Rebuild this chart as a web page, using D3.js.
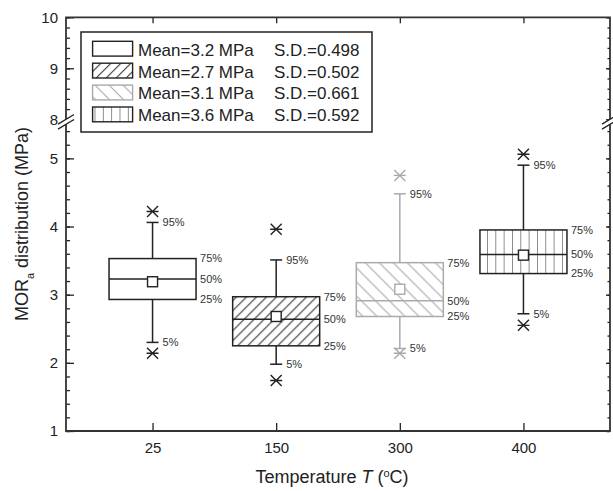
<!DOCTYPE html>
<html>
<head>
<meta charset="utf-8">
<script src="https://cdn.jsdelivr.net/npm/d3@7"></script>
<style>
  body { margin: 0; background: #fff; }
  svg { font-family: "Liberation Sans", Arial, sans-serif; display: block; }
</style>
</head>
<body>
<div id="chart"></div>
<script>
// values
const categories = ["25", "150", "300", "400"]
const p5 = [2.30, 1.98, 2.21, 2.72]
const p25 = [2.93, 2.25, 2.68, 3.31]
const p50 = [3.23, 2.64, 2.91, 3.59]
const p75 = [3.53, 2.97, 3.47, 3.95]
const p95 = [4.06, 3.51, 4.48, 4.90]
const means = [3.19, 2.68, 3.08, 3.58]
const lowMarks = [2.14, 1.74, 2.14, 2.55]
const highMarks = [4.22, 3.96, 4.75, 5.06]
const meanLabels = ["Mean=3.2 MPa", "Mean=2.7 MPa", "Mean=3.1 MPa", "Mean=3.6 MPa"]
const sdLabels = ["S.D.=0.498", "S.D.=0.502", "S.D.=0.661", "S.D.=0.592"]
const lowerTicks = [1, 2, 3, 4, 5]
const upperTicks = [8, 9, 10]
const lowerDomain = [1, 5.5]
const upperDomain = [8, 10]

function drawChart() {

    const dimensions = {
        width: 613,
        height: 491,
        margin: {
            top: 17.3,
            right: 3,
            bottom: 60,
            left: 66,
        },
    }
    dimensions.boundedWidth = dimensions.width
        - dimensions.margin.left
        - dimensions.margin.right
    dimensions.boundedHeight = dimensions.height
        - dimensions.margin.top
        - dimensions.margin.bottom

    const ink = "#222"
    const boxStrokes = ["#222", "#222", "#aaa", "#222"]
    const boxFills = ["#fff", "url(#hatchFwd)", "url(#hatchBack)", "url(#hatchVert)"]

    const wrapper = d3.select("#chart")
        .append("svg")
        .attr("width", dimensions.width)
        .attr("height", dimensions.height)

    // hatch patterns
    const defs = wrapper.append("defs")
    const fwd = defs.append("pattern").attr("id", "hatchFwd")
        .attr("patternUnits", "userSpaceOnUse").attr("width", 10).attr("height", 10)
    fwd.append("rect").attr("width", 10).attr("height", 10).attr("fill", "#fff")
    fwd.append("path").attr("d", "M-2,2 L2,-2 M0,10 L10,0 M8,12 L12,8")
        .attr("stroke", "#333").attr("stroke-width", 1.1)
    const back = defs.append("pattern").attr("id", "hatchBack")
        .attr("patternUnits", "userSpaceOnUse").attr("width", 14).attr("height", 14)
    back.append("rect").attr("width", 14).attr("height", 14).attr("fill", "#fff")
    back.append("path").attr("d", "M-2,12 L2,16 M0,0 L14,14 M12,-2 L16,2")
        .attr("stroke", "#aaa").attr("stroke-width", 1.1)
    const vert = defs.append("pattern").attr("id", "hatchVert")
        .attr("patternUnits", "userSpaceOnUse").attr("width", 8.33).attr("height", 10)
        .attr("x", 480)
    vert.append("rect").attr("width", 8.33).attr("height", 10).attr("fill", "#fff")
    vert.append("path").attr("d", "M0,0 L0,10")
        .attr("stroke", "#333").attr("stroke-width", 1.1)

    const bounds = wrapper.append("g")
        .attr("transform", `translate(${dimensions.margin.left}, ${dimensions.margin.top})`)

    // scales
    const xScale = d3.scalePoint()
        .domain(categories)
        .range([0, dimensions.boundedWidth])
        .padding(0.7)
    const yLow = d3.scaleLinear()
        .domain(lowerDomain)
        .range([dimensions.boundedHeight, 107])
    const yHigh = d3.scaleLinear()
        .domain(upperDomain)
        .range([102, 0])

    const minorOf = (ticks, step) => {
        const out = []
        for (let v = ticks[0]; v <= ticks[1] + 1e-9; v += step) out.push(+v.toFixed(2))
        return out
    }
    const lowMinor = minorOf(lowerDomain, 0.2)
    const highMinor = minorOf(upperDomain, 0.2)

    // left axis, lower and upper segments
    const styleAxis = g => {
        g.select(".domain").remove()
        g.selectAll("line").attr("stroke", ink).attr("stroke-width", 1.3)
        g.selectAll("text").attr("fill", ink).style("font-size", "15px")
    }
    ;[[yLow, lowerTicks, lowMinor], [yHigh, upperTicks, highMinor]].forEach(([s, major, minor]) => {
        bounds.append("g")
            .call(d3.axisLeft(s).tickValues(minor).tickSizeInner(-4).tickSizeOuter(0).tickFormat(""))
            .call(styleAxis)
        bounds.append("g")
            .call(d3.axisLeft(s).tickValues(major).tickSizeInner(-8).tickSizeOuter(0).tickPadding(8).tickFormat(d3.format("d")))
            .call(styleAxis)
        const right = bounds.append("g")
            .attr("transform", `translate(${dimensions.boundedWidth}, 0)`)
        right.append("g")
            .call(d3.axisRight(s).tickValues(minor).tickSizeInner(-2.5).tickSizeOuter(0).tickFormat(""))
            .call(styleAxis)
        right.append("g")
            .call(d3.axisRight(s).tickValues(major).tickSizeInner(-4).tickSizeOuter(0).tickFormat(""))
            .call(styleAxis)
    })

    // bottom and top axes
    bounds.append("g")
        .attr("transform", `translate(0, ${dimensions.boundedHeight})`)
        .call(d3.axisBottom(xScale).tickSizeInner(-8).tickSizeOuter(0).tickPadding(11))
        .call(styleAxis)
    bounds.append("g")
        .call(d3.axisTop(xScale).tickSizeInner(-6).tickSizeOuter(0).tickFormat(""))
        .call(styleAxis)

    // frame
    const frame = bounds.append("g")
        .attr("stroke", "#333").attr("stroke-width", 1.8).attr("fill", "none")
    const W = dimensions.boundedWidth
    const H = dimensions.boundedHeight
    frame.append("path").attr("d", `M0,${yHigh(upperDomain[0])} V0 H${W} V${yHigh(upperDomain[0])}`)
    frame.append("path").attr("d", `M0,${yLow(lowerDomain[1])} V${H} H${W} V${yLow(lowerDomain[1])}`)

    // axis break marks
    const cy = (yHigh(upperDomain[0]) + yLow(lowerDomain[1])) / 2
    ;[0, W].forEach(bx => {
        const g = bounds.append("g").attr("transform", `translate(${bx}, ${cy})`)
        g.append("path").attr("d", "M-8,7.3 L8,-2.3 L8,-7.3 L-8,2.3 Z").attr("fill", "#fff")
        g.append("path").attr("d", "M-8,7.3 L8,-2.3 M-8,2.3 L8,-7.3")
            .attr("stroke", ink).attr("stroke-width", 1.3).attr("fill", "none")
    })

    // boxes
    const boxW = 87
    const capW = 12
    const boxes = bounds.selectAll(".box")
        .data(categories)
        .join("g")
        .attr("class", "box")
        .attr("transform", d => `translate(${xScale(d)}, 0)`)

    boxes.each(function (d, i) {
        const g = d3.select(this)
        const col = boxStrokes[i]
        const line = (x1, y1, x2, y2) => g.append("line")
            .attr("x1", x1).attr("y1", y1).attr("x2", x2).attr("y2", y2)
            .attr("stroke", col).attr("stroke-width", 1.5)
        // whiskers
        line(0, yLow(p75[i]), 0, yLow(p95[i]))
        line(0, yLow(p25[i]), 0, yLow(p5[i]))
        line(-capW / 2, yLow(p95[i]), capW / 2, yLow(p95[i]))
        line(-capW / 2, yLow(p5[i]), capW / 2, yLow(p5[i]))
        // box
        g.append("rect")
            .attr("x", -boxW / 2)
            .attr("y", yLow(p75[i]))
            .attr("width", boxW)
            .attr("height", yLow(p25[i]) - yLow(p75[i]))
            .attr("fill", boxFills[i])
            .attr("stroke", col)
            .attr("stroke-width", 1.5)
        line(-boxW / 2, yLow(p50[i]), boxW / 2, yLow(p50[i]))
        // mean
        g.append("rect")
            .attr("x", -5).attr("y", yLow(means[i]) - 5)
            .attr("width", 10).attr("height", 10)
            .attr("fill", "#fff").attr("stroke", col).attr("stroke-width", 1.4)
        // extreme markers
        ;[lowMarks[i], highMarks[i]].forEach(v => {
            const yy = yLow(v)
            g.append("path")
                .attr("d", `M-5.5,${yy - 5.5} L5.5,${yy + 5.5} M-5.5,${yy + 5.5} L5.5,${yy - 5.5} M-6,${yy} H6`)
                .attr("stroke", col).attr("stroke-width", 1.4).attr("fill", "none")
        })
        // percent labels
        const lab = (x, v, t) => g.append("text")
            .attr("x", x).attr("y", yLow(v))
            .attr("dy", "0.35em")
            .attr("fill", "#333")
            .style("font-size", "11px")
            .text(t)
        lab(10, p95[i], "95%")
        lab(10, p5[i], "5%")
        lab(boxW / 2 + 4, p75[i], "75%")
        lab(boxW / 2 + 4, p50[i], "50%")
        lab(boxW / 2 + 4, p25[i], "25%")
    })

    // legend
    const legend = wrapper.append("g").attr("transform", "translate(81, 32)")
    legend.append("rect")
        .attr("width", 291).attr("height", 100)
        .attr("fill", "#fff").attr("stroke", ink).attr("stroke-width", 1.5)
    const rows = legend.selectAll(".row")
        .data(meanLabels)
        .join("g")
        .attr("class", "row")
        .attr("transform", (d, i) => `translate(0, ${9.3 + i * 21.9})`)
    rows.append("rect")
        .attr("x", 11.6).attr("width", 40).attr("height", 14.8)
        .attr("fill", (d, i) => boxFills[i])
        .attr("stroke", (d, i) => boxStrokes[i])
        .attr("stroke-width", 1.4)
    rows.append("text")
        .attr("x", 57).attr("y", 8.4).attr("dy", "0.35em")
        .attr("fill", ink).style("font-size", "17px")
        .text(d => d)
    rows.append("text")
        .attr("x", 193).attr("y", 8.4).attr("dy", "0.35em")
        .attr("fill", ink).style("font-size", "17px")
        .text((d, i) => sdLabels[i])

    // axis titles
    const xLabel = wrapper.append("text")
        .attr("x", 332).attr("y", 483)
        .attr("text-anchor", "middle")
        .attr("fill", ink)
        .style("font-size", "18px")
    xLabel.append("tspan").text("Temperature ")
    xLabel.append("tspan").style("font-style", "italic").text("T")
    xLabel.append("tspan").text(" (")
    xLabel.append("tspan").attr("baseline-shift", "super").style("font-size", "11px").text("o")
    xLabel.append("tspan").text("C)")

    const yLabel = wrapper.append("text")
        .attr("transform", "translate(28, 224) rotate(-90)")
        .attr("text-anchor", "middle")
        .attr("fill", ink)
        .style("font-size", "18px")
    yLabel.append("tspan").text("MOR")
    yLabel.append("tspan").attr("baseline-shift", "sub").style("font-size", "11px").text("a")
    yLabel.append("tspan").text(" distribution (MPa)")
}

drawChart()
</script>
</body>
</html>
